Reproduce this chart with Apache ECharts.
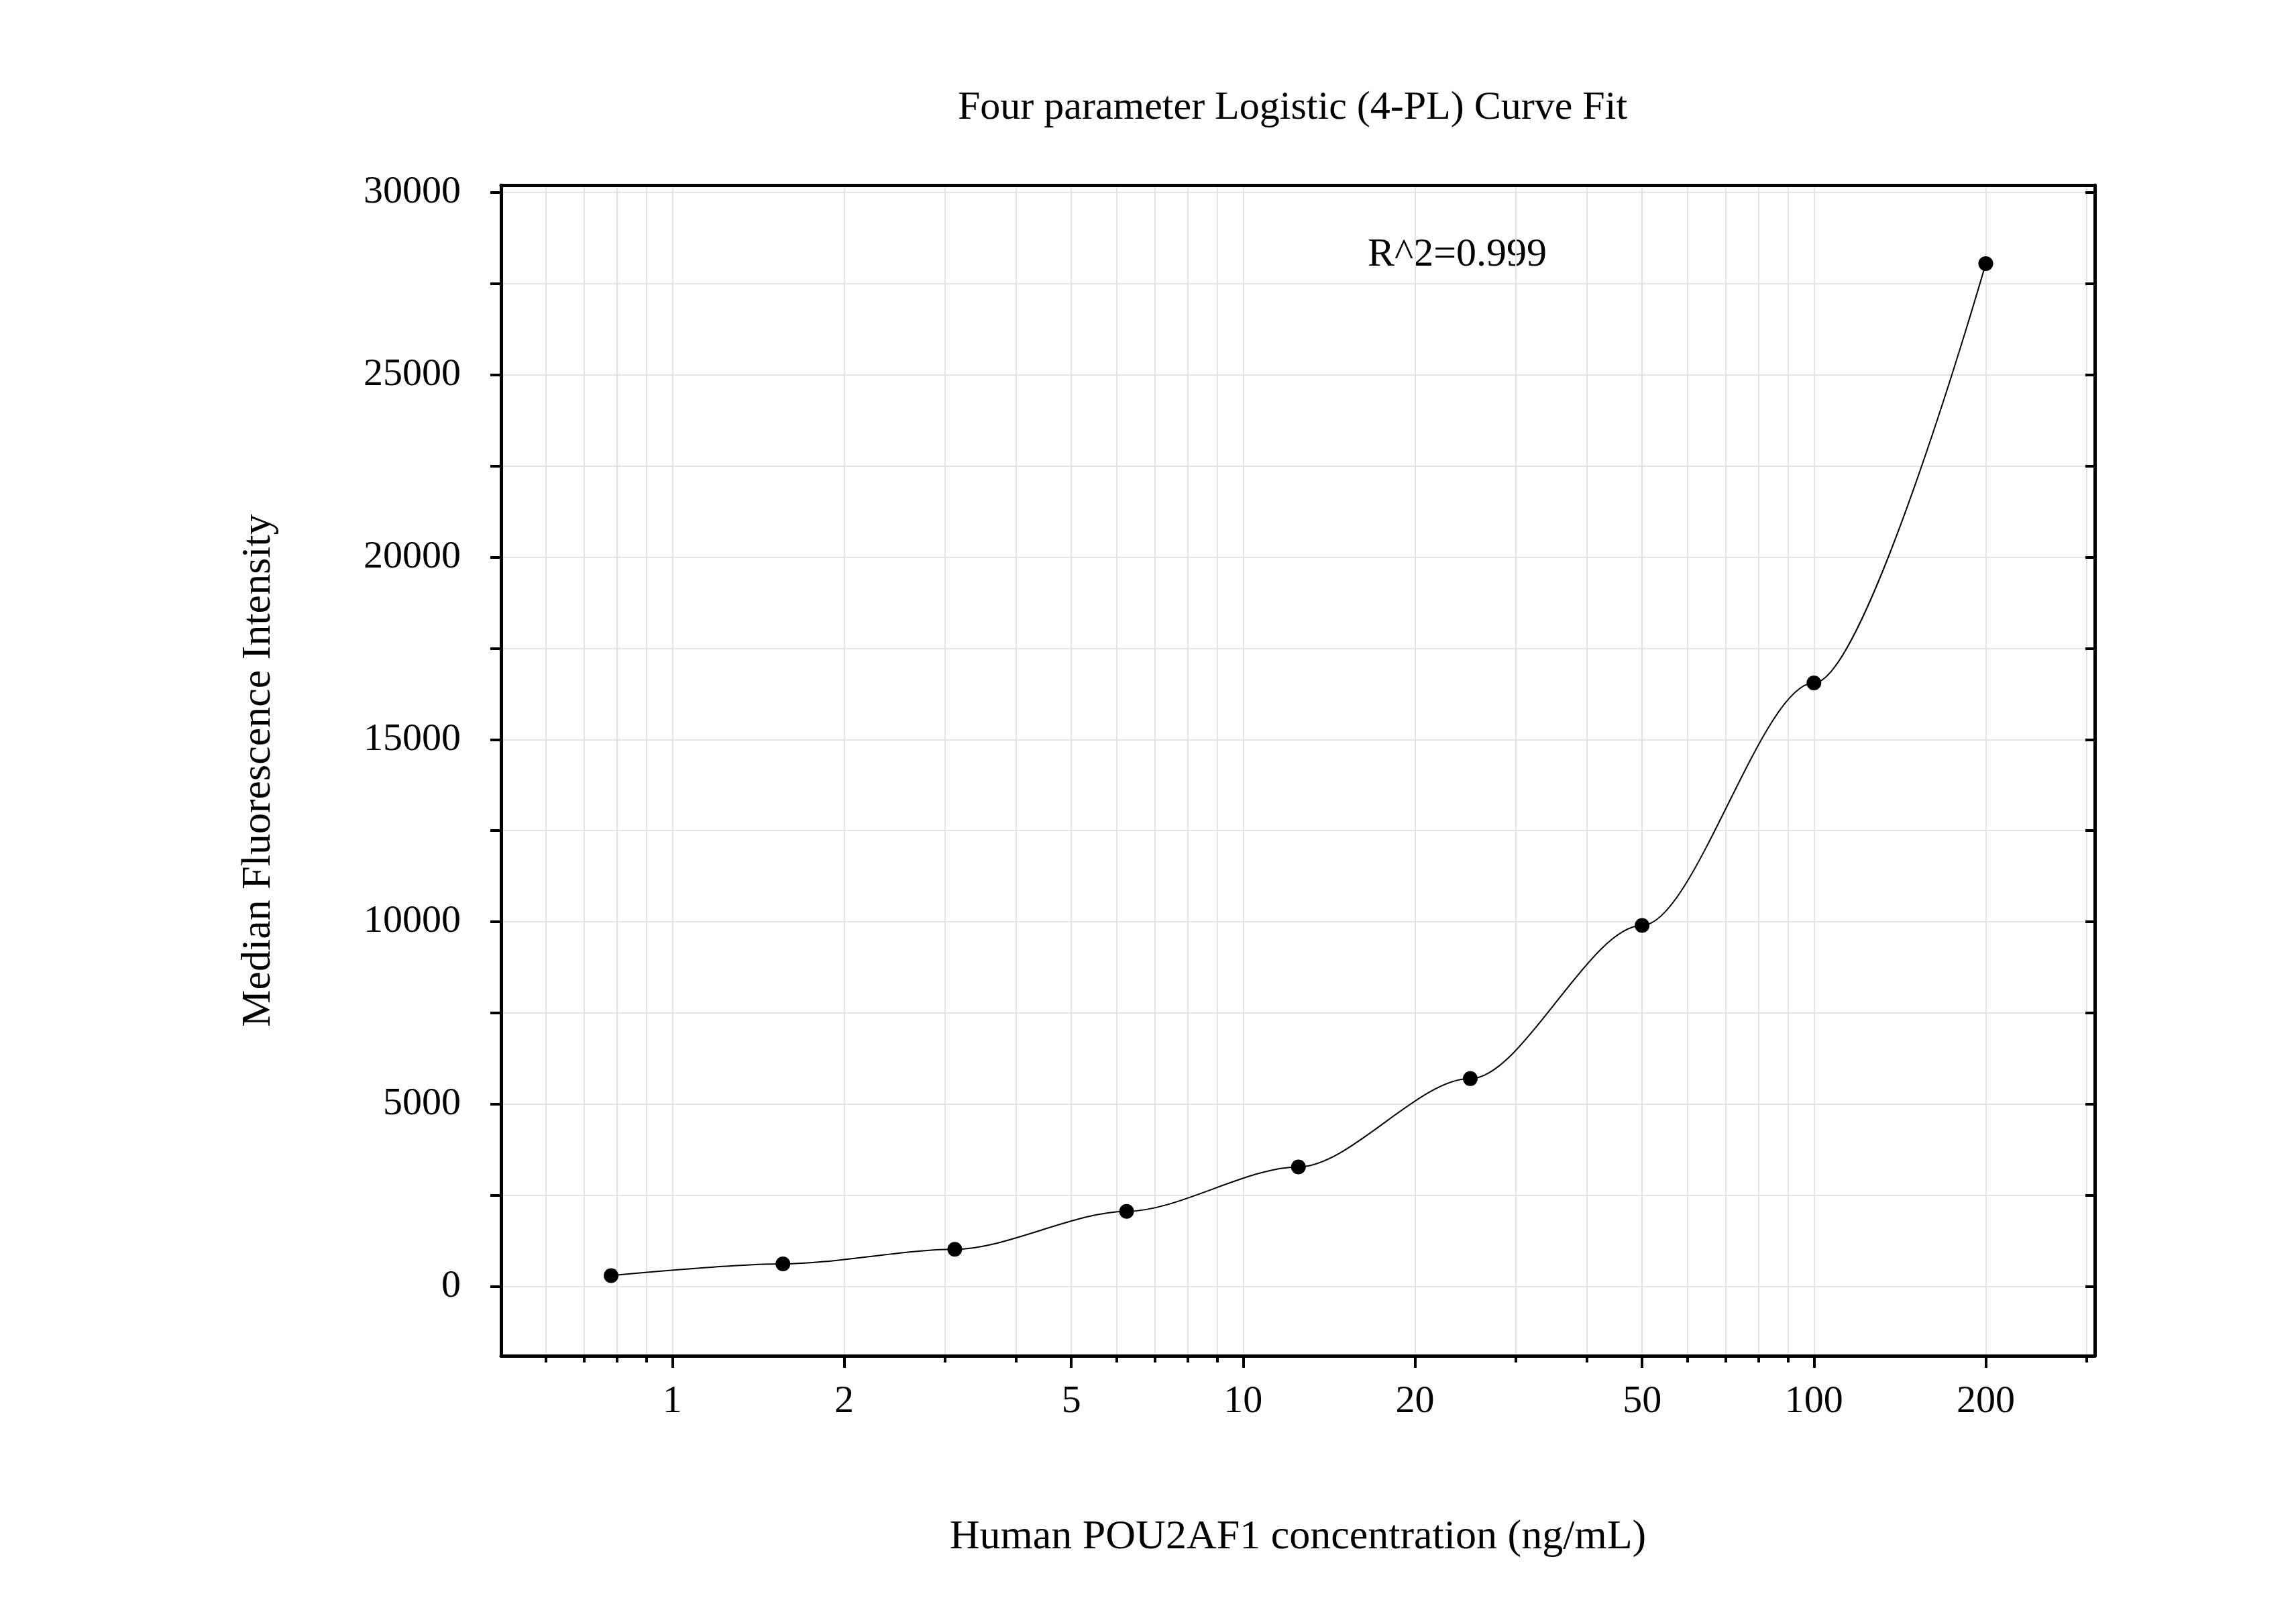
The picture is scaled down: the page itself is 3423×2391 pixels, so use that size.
<!DOCTYPE html>
<html>
<head>
<meta charset="utf-8">
<script src="https://cdn.jsdelivr.net/npm/echarts@6/dist/echarts.min.js"></script>
<style>html,body{margin:0;background:#fff}#c{width:3423px;height:2391px}</style>
</head>
<body>
<div id="c"></div>
<script>
// concentration (ng/mL) and median fluorescence intensity
const conc = [0.78125, 1.5625, 3.125, 6.25, 12.5, 25, 50, 100, 200];
const mfi = [300, 620, 1020, 2060, 3280, 5700, 9900, 16550, 28050];
const xLabels = [1, 2, 5, 10, 20, 50, 100, 200];
const yLabels = [0, 5000, 10000, 15000, 20000, 25000, 30000];

const FONT = 'Liberation Serif';
const lg = v => Math.log10(v);

// minor tick positions 0.6..300
let minorX = [];
[0.1, 1, 10, 100].forEach(d => {
  for (let k = 1; k <= 9; k++) {
    let v = d * k;
    if (v >= 0.55 && v <= 305) minorX.push(lg(v));
  }
});
let yMinor = [];
for (let v = 0; v <= 30000; v += 2500) yMinor.push(v);

const XMIN = -0.3, XMAX = 2.492, YMIN = -1900, YMAX = 30200;
const lineSt = {color: '#000', width: 5};

let chart = echarts.init(document.getElementById('c'));
let option = {
  backgroundColor: '#fff',
  animation: false,
  title: {
    text: 'Four parameter Logistic (4-PL) Curve Fit',
    left: 1922, top: 126, textAlign: 'center',
    textStyle: {fontFamily: FONT, fontSize: 60, fontWeight: 'normal', color: '#000'}
  },
  grid: {left: 747, right: 300, top: 276, bottom: 370},
  xAxis: [{
    type: 'value', min: XMIN, max: XMAX,
    name: 'Human POU2AF1 concentration (ng/mL)',
    nameLocation: 'middle', nameGap: 240,
    nameTextStyle: {fontFamily: FONT, fontSize: 62, color: '#000'},
    axisLine: {onZero: false, lineStyle: lineSt},
    axisTick: {customValues: xLabels.map(lg), length: 18, lineStyle: {color: '#000', width: 4}},
    axisLabel: {customValues: xLabels.map(lg), margin: 40, fontFamily: FONT, fontSize: 58, color: '#000',
      formatter: v => String(Math.round(Math.pow(10, v)))},
    splitLine: {show: false}
  }, {
    type: 'value', min: XMIN, max: XMAX, position: 'bottom',
    axisLine: {show: false, onZero: false},
    axisTick: {customValues: minorX, length: 10, lineStyle: {color: '#000', width: 4}},
    axisLabel: {show: false},
    splitLine: {show: true, lineStyle: {color: '#e4e4e4', width: 2}}
  }, {
    type: 'value', min: XMIN, max: XMAX, position: 'top',
    axisLine: {show: true, onZero: false, lineStyle: lineSt},
    axisTick: {show: false}, axisLabel: {show: false}, splitLine: {show: false}
  }],
  yAxis: [{
    type: 'value', min: YMIN, max: YMAX,
    name: 'Median Fluorescence Intensity',
    nameLocation: 'middle', nameGap: 330,
    nameTextStyle: {fontFamily: FONT, fontSize: 62, color: '#000'},
    axisLine: {show: true, onZero: false, lineStyle: lineSt},
    axisTick: {customValues: yMinor, length: 16, lineStyle: {color: '#000', width: 4}},
    axisLabel: {customValues: yLabels, margin: 60, fontFamily: FONT, fontSize: 58, color: '#000',
      formatter: v => String(v)},
    splitLine: {show: true, lineStyle: {color: '#e4e4e4', width: 2}}
  }, {
    type: 'value', min: YMIN, max: YMAX, position: 'right',
    axisLine: {show: true, onZero: false, lineStyle: lineSt},
    axisTick: {customValues: yMinor, inside: true, length: 14, lineStyle: {color: '#000', width: 4}},
    axisLabel: {show: false}, splitLine: {show: false}
  }],
  graphic: [{
    type: 'text', left: 2039, top: 350,
    style: {text: 'R^2=0.999', font: '60px "Liberation Serif"', fill: '#000'}
  }],
  series: [{
    type: 'line',
    data: conc.map((c, i) => [lg(c), mfi[i]]),
    smooth: 0.3, smoothMonotone: 'x',
    symbol: 'circle', symbolSize: 22,
    itemStyle: {color: '#000'},
    lineStyle: {color: '#000', width: 2}
  }]
};
chart.setOption(option);
</script>
</body>
</html>
